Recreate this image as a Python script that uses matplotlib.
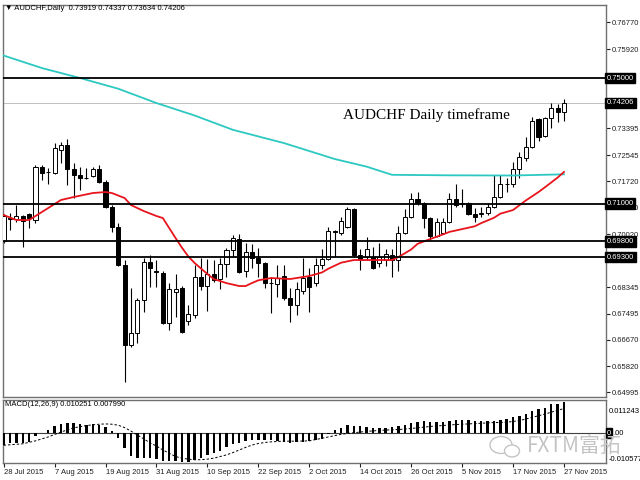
import numpy as np
import matplotlib.pyplot as plt
from matplotlib.patches import Rectangle, Ellipse

plt.rcParams['font.family'] = ['Liberation Sans', 'DejaVu Sans']

# daily AUDCHF bars, 28 Jul 2015 .. 27 Nov 2015
opens = [0.69811, 0.70527, 0.70511, 0.70616, 0.70670, 0.70479, 0.72167, 0.72008, 0.71976, 0.72708,
         0.72867, 0.72103, 0.71912, 0.71832, 0.71880, 0.72103, 0.71689, 0.70893, 0.70256, 0.69046,
         0.66500, 0.66882, 0.67932, 0.69142, 0.68855, 0.68792, 0.67200, 0.68187, 0.68314, 0.67264,
         0.67455, 0.68664, 0.68378, 0.68760, 0.68601, 0.69078, 0.69524, 0.69874, 0.68855, 0.69460,
         0.69270, 0.69110, 0.68489, 0.68441, 0.68696, 0.67996, 0.67773, 0.68219, 0.68664, 0.68473,
         0.69046, 0.69238, 0.70129, 0.70065, 0.70256, 0.70829, 0.69365, 0.69302, 0.69302, 0.69110,
         0.69206, 0.69365, 0.69206, 0.70065, 0.70575, 0.71148, 0.71020, 0.70543, 0.69970, 0.70065,
         0.70415, 0.71148, 0.70989, 0.71020, 0.70670, 0.70686, 0.70702, 0.70893, 0.71212, 0.71610,
         0.71625, 0.72103, 0.72453, 0.72804, 0.73695, 0.73154, 0.73727, 0.74045, 0.73919]
highs = [0.70670, 0.70702, 0.70957, 0.70638, 0.70702, 0.72230, 0.72230, 0.72135, 0.72931, 0.72963,
         0.73058, 0.72294, 0.72167, 0.72135, 0.72167, 0.72230, 0.71753, 0.70957, 0.70384, 0.69206,
         0.68314, 0.67996, 0.69270, 0.69365, 0.69206, 0.68855, 0.68473, 0.68760, 0.68378, 0.67773,
         0.69046, 0.69270, 0.69238, 0.69206, 0.69270, 0.69588, 0.70002, 0.70034, 0.69747, 0.69715,
         0.69588, 0.69142, 0.68664, 0.69046, 0.69046, 0.68314, 0.68505, 0.69270, 0.68951, 0.69270,
         0.69556, 0.70256, 0.70161, 0.70575, 0.70893, 0.70861, 0.69556, 0.69938, 0.69620, 0.69747,
         0.69556, 0.69556, 0.70288, 0.70829, 0.71339, 0.71371, 0.71052, 0.70575, 0.70543, 0.70543,
         0.71339, 0.71625, 0.71466, 0.71052, 0.70861, 0.70893, 0.71020, 0.71912, 0.71912, 0.71816,
         0.72326, 0.72644, 0.73122, 0.73759, 0.73727, 0.73759, 0.74204, 0.74173, 0.74337]
lows = [0.69747, 0.70161, 0.70415, 0.69630, 0.70224, 0.70384, 0.71753, 0.71625, 0.71944, 0.72294,
        0.71594, 0.71180, 0.71434, 0.71785, 0.71848, 0.71657, 0.70861, 0.70097, 0.69015, 0.65321,
        0.66436, 0.66563, 0.67550, 0.68346, 0.68346, 0.67168, 0.66977, 0.67391, 0.66882, 0.67136,
        0.67359, 0.68250, 0.67582, 0.68505, 0.68282, 0.68664, 0.69302, 0.68792, 0.68664, 0.68951,
        0.68664, 0.68314, 0.67518, 0.68028, 0.67932, 0.67232, 0.67455, 0.68123, 0.67550, 0.68378,
        0.68919, 0.69206, 0.69302, 0.70002, 0.70224, 0.69302, 0.68887, 0.69206, 0.68919, 0.68983,
        0.69015, 0.68664, 0.68855, 0.70034, 0.70543, 0.70957, 0.70224, 0.69843, 0.69938, 0.70034,
        0.70384, 0.70893, 0.70893, 0.70638, 0.70415, 0.70575, 0.70638, 0.70861, 0.71180, 0.71371,
        0.71530, 0.71816, 0.72358, 0.72772, 0.72995, 0.73122, 0.73408, 0.73600, 0.73634]
closes = [0.70607, 0.70543, 0.70616, 0.70447, 0.70543, 0.72167, 0.71976, 0.71992, 0.72772, 0.72867,
          0.72103, 0.71912, 0.71816, 0.71816, 0.72103, 0.71689, 0.70893, 0.70256, 0.69046, 0.66500,
          0.66882, 0.67932, 0.69142, 0.68951, 0.68824, 0.67200, 0.68282, 0.68282, 0.66914, 0.67486,
          0.68664, 0.68378, 0.68760, 0.68569, 0.69078, 0.69524, 0.69906, 0.68824, 0.69460, 0.69270,
          0.69110, 0.68473, 0.68473, 0.68632, 0.67996, 0.67773, 0.68282, 0.68632, 0.68346, 0.69046,
          0.69238, 0.70129, 0.70113, 0.70447, 0.70829, 0.69365, 0.69238, 0.69556, 0.68951, 0.69302,
          0.69397, 0.69206, 0.70065, 0.70575, 0.71148, 0.71020, 0.70543, 0.69970, 0.70415, 0.70415,
          0.71148, 0.70957, 0.71020, 0.70670, 0.70575, 0.70702, 0.70893, 0.71212, 0.71625, 0.71625,
          0.72103, 0.72485, 0.72804, 0.73631, 0.73122, 0.73727, 0.74045, 0.73918, 0.74206]

# moving averages (bar index, price)
fast_ma_idx = [0, 2, 4, 5, 7, 9, 11, 14, 16, 17, 19, 20, 22, 24, 25, 26, 27, 28, 29, 30, 32, 33, 35,
               37, 38, 39, 40, 42, 45, 48, 50, 51, 53, 55, 61, 62, 64, 65, 67, 69, 70, 72, 74, 75, 77,
               78, 80, 82, 84, 85, 87, 88]
fast_ma = [0.70638, 0.70479, 0.70479, 0.70606, 0.70861, 0.71116, 0.71211, 0.71338, 0.71370, 0.71338,
           0.71179, 0.70956, 0.70765, 0.70606, 0.70542, 0.70224, 0.69906, 0.69600, 0.69320, 0.69110,
           0.68760, 0.68600, 0.68470, 0.68377, 0.68377, 0.68473, 0.68560, 0.68632, 0.68600, 0.68696,
           0.68810, 0.68930, 0.69120, 0.69205, 0.69205, 0.69300, 0.69540, 0.69720, 0.69874, 0.70020,
           0.70100, 0.70190, 0.70280, 0.70380, 0.70550, 0.70680, 0.70797, 0.71100, 0.71370, 0.71520,
           0.71830, 0.72010]
slow_ma_idx = [0, 6, 12, 18, 24, 30, 36, 44, 52, 57, 61, 70, 80, 88]
slow_ma = [0.75716, 0.75318, 0.75000, 0.74659, 0.74204, 0.73806, 0.73351, 0.72930, 0.72421, 0.72179,
           0.71918, 0.71902, 0.71896, 0.71934]

levels = [0.75000, 0.71000, 0.69800, 0.69300]
last_price = 0.74206
price_ticks = [0.76770, 0.75920, 0.73395, 0.72545, 0.71720, 0.70870, 0.70020,
               0.68345, 0.67495, 0.66670, 0.65820, 0.64995]

macd = [-0.00394, -0.00342, -0.00320, -0.00320, -0.00288, -0.00106, -0.00010, 0.00086, 0.00214, 0.00298,
        0.00330, 0.00320, 0.00298, 0.00266, 0.00298, 0.00266, 0.00192, 0.00064, -0.00150, -0.00502,
        -0.00746, -0.00822, -0.00822, -0.00822, -0.00854, -0.00906, -0.00906, -0.00906, -0.00950, -0.00950,
        -0.00896, -0.00822, -0.00714, -0.00662, -0.00576, -0.00448, -0.00362, -0.00310, -0.00266, -0.00234,
        -0.00214, -0.00214, -0.00234, -0.00256, -0.00288, -0.00310, -0.00288, -0.00298, -0.00250, -0.00224,
        -0.00182, -0.00019, 0.00086, 0.00170, 0.00266, 0.00246, 0.00214, 0.00192, 0.00170, 0.00170,
        0.00170, 0.00192, 0.00224, 0.00266, 0.00330, 0.00362, 0.00384, 0.00374, 0.00352, 0.00362,
        0.00406, 0.00426, 0.00438, 0.00426, 0.00406, 0.00384, 0.00384, 0.00406, 0.00426, 0.00448,
        0.00512, 0.00566, 0.00618, 0.00726, 0.00778, 0.00832, 0.00938, 0.00960, 0.010251]
signal_idx = [0, 3, 5, 7, 9, 11, 13, 15, 16, 17, 18, 19, 20, 21, 22, 23, 24, 25, 26, 27, 28, 29, 30,
              31, 32, 33, 34, 35, 36, 37, 38, 39, 40, 41, 42, 44, 46, 48, 49, 51, 53, 55, 57, 59, 61,
              63, 65, 67, 69, 71, 73, 75, 77, 79, 81, 83, 85, 87, 88]
signal = [-0.00400, -0.00352, -0.00256, -0.00128, 0.00032, 0.00170, 0.00246, 0.00288, 0.00298, 0.00288,
          0.00256, 0.00176, 0.00064, -0.00064, -0.00192, -0.00320, -0.00426, -0.00554, -0.00662, -0.00768,
          -0.00822, -0.00854, -0.00874, -0.00874, -0.00854, -0.00822, -0.00768, -0.00714, -0.00640, -0.00554,
          -0.00470, -0.00394, -0.00342, -0.00310, -0.00288, -0.00266, -0.00266, -0.00256, -0.00214, -0.00128,
          -0.00042, 0.00010, 0.00054, 0.00086, 0.00106, 0.00128, 0.00170, 0.00214, 0.00246, 0.00278,
          0.00298, 0.00320, 0.00342, 0.00352, 0.00406, 0.00512, 0.00618, 0.00746, 0.00799]

date_labels = ['28 Jul 2015', '7 Aug 2015', '19 Aug 2015', '31 Aug 2015', '10 Sep 2015', '22 Sep 2015',
               '2 Oct 2015', '14 Oct 2015', '26 Oct 2015', '5 Nov 2015', '17 Nov 2015', '27 Nov 2015']

fig = plt.figure(figsize=(6.4, 4.8), dpi=100)
ax = fig.add_axes([3/640, 83/480, 603/640, 392/480])
ax2 = fig.add_axes([3/640, 17/480, 603/640, 63/480])

x = np.arange(len(opens))

# candles
for i in x:
    o, h, l, c = opens[i], highs[i], lows[i], closes[i]
    ax.vlines(i, l, h, color='black', lw=0.8, zorder=2)
    lo, hi = min(o, c), max(o, c)
    face = 'white' if c >= o else 'black'
    ax.add_patch(Rectangle((i - 0.32, lo), 0.64, max(hi - lo, 0.00005),
                           facecolor=face, edgecolor='black', lw=0.7, zorder=3))

ax.plot(slow_ma_idx, slow_ma, color='#2cc8c2', lw=1.3, zorder=4)
ax.plot(fast_ma_idx, fast_ma, color='#e8141c', lw=1.3, zorder=4)

ax.axhline(last_price, color='#c0c0c0', lw=0.7, zorder=1)
for v in levels:
    ax.axhline(v, color='black', lw=1.3, zorder=5)

ax.set_xlim(-0.1, 94.6)
ax.set_ylim(0.64844, 0.77325)
ax.set_xticks([])
ax.yaxis.tick_right()
ax.set_yticks(price_ticks)
ax.set_yticklabels(['%.5f' % v for v in price_ticks])
ax.tick_params(axis='y', labelsize=5.5, length=3, pad=1, colors='#202020')

tr = ax.get_yaxis_transform()
for v in levels + [last_price]:
    ax.text(1.001, v, '%.5f' % v, transform=tr, ha='left', va='center', fontsize=5.5,
            color='white', zorder=10, clip_on=False,
            bbox=dict(boxstyle='square,pad=0.22', facecolor='black', edgecolor='black'))

for a in (ax, ax2):
    for s in a.spines.values():
        s.set_color('#707070')
        s.set_linewidth(1.0)

fig.text(5/640, 1 - 9/480, '\u25bc AUDCHF,Daily  0.73919 0.74337 0.73634 0.74206',
         fontsize=5.5, va='center', family=['Liberation Sans', 'DejaVu Sans'])
fig.text(343/640, 1 - 119/480, 'AUDCHF Daily timeframe', fontsize=11,
         family='Liberation Serif', va='baseline')

# MACD panel
ax2.bar(x, macd, width=0.38, color='black', zorder=3)
ax2.plot(signal_idx, signal, color='black', lw=0.7, ls=(0, (2.5, 2)), zorder=4)
ax2.axhline(0, color='#404040', lw=0.8, zorder=2)
ax2.set_xlim(-0.1, 94.6)
ax2.set_ylim(-0.0098, 0.0108)
ax2.set_yticks([])
ax2.set_xticks(range(0, 89, 8))
ax2.set_xticklabels(date_labels, ha='left')
ax2.tick_params(axis='x', labelsize=5.5, length=3, pad=1, colors='#202020')

fig.text(5/640, 1 - 405/480, 'MACD(12,26,9) 0.010251 0.007990', fontsize=5.5, va='center')
ax2.text(1.004, 0.825, '0.011243', transform=ax2.transAxes, fontsize=5.5, va='center')
ax2.text(1.004, 0.048, '-0.010577', transform=ax2.transAxes, fontsize=5.5, va='center', clip_on=False)
ax2.text(1.002, 0.0, '0', transform=ax2.get_yaxis_transform(), fontsize=5.5, va='center', color='white',
         bbox=dict(boxstyle='square,pad=0.15', facecolor='black', edgecolor='black'))
ax2.text(1.012, 0.0, '.00', transform=ax2.get_yaxis_transform(), fontsize=5.5, va='center')

# watermark
fig.text(527/640, 1 - 447/480, 'FXTM富拓', fontsize=15, color='#c4c4c4', va='center',
         family=['Noto Sans CJK SC', 'DejaVu Sans'], zorder=20)
fig.add_artist(Ellipse((501/640, 1 - 445/480), 22/640, 17/480, transform=fig.transFigure,
                       fill=False, edgecolor='#c4c4c4', lw=1.0))
fig.add_artist(Ellipse((512/640, 1 - 451/480), 15/640, 12/480, transform=fig.transFigure,
                       facecolor='white', edgecolor='#c4c4c4', lw=1.0))

fig.savefig('out.png', dpi=100)
